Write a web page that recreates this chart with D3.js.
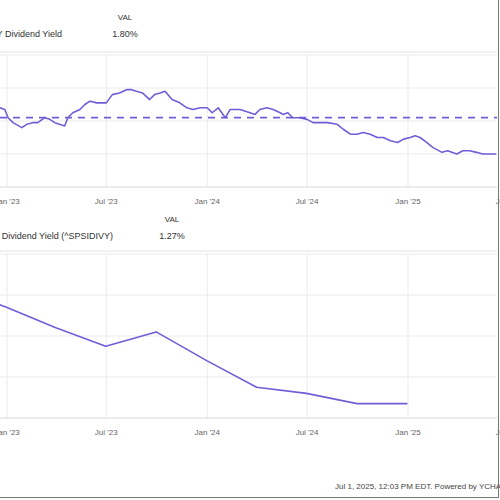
<!DOCTYPE html>
<html><head><meta charset="utf-8">
<script src="https://cdn.jsdelivr.net/npm/d3@7"></script>
<style>body{margin:0;background:#fff} svg{display:block;font-family:"Liberation Sans",Arial,sans-serif}</style>
</head><body><svg id="c" width="500" height="500"></svg>
<script>
const xTickDates = ["2023-01-01","2023-07-01","2024-01-01","2024-07-01","2025-01-01","2025-07-01"];
const xTickLabels = ["Jan '23","Jul '23","Jan '24","Jul '24","Jan '25","Jul '25"];

const fundDates = ["2022-12-19","2022-12-28","2023-01-03","2023-01-12","2023-01-28","2023-02-06","2023-02-17","2023-02-26","2023-03-11","2023-03-20","2023-03-29","2023-04-07","2023-04-16","2023-04-22","2023-05-01","2023-05-14","2023-05-23","2023-06-01","2023-06-14","2023-07-01","2023-07-12","2023-07-25","2023-08-07","2023-08-16","2023-08-25","2023-09-05","2023-09-18","2023-09-27","2023-10-07","2023-10-16","2023-10-29","2023-11-12","2023-11-25","2023-12-06","2023-12-19","2024-01-01","2024-01-10","2024-01-21","2024-02-03","2024-02-12","2024-03-01","2024-03-19","2024-03-28","2024-04-06","2024-04-19","2024-04-30","2024-05-13","2024-05-18","2024-05-27","2024-06-05","2024-06-18","2024-07-01","2024-07-12","2024-07-25","2024-08-07","2024-08-25","2024-09-05","2024-09-18","2024-09-30","2024-10-11","2024-10-24","2024-11-06","2024-11-17","2024-11-30","2024-12-13","2024-12-24","2025-01-05","2025-01-14","2025-01-23","2025-02-04","2025-02-15","2025-03-04","2025-03-14","2025-03-31","2025-04-11","2025-04-23","2025-05-06","2025-05-17","2025-06-11"];
const fundYield = [2.08,2.07,2.02,1.99,1.96,1.98,1.99,1.99,2.02,2.01,1.99,1.98,1.97,2.02,2.05,2.07,2.10,2.12,2.11,2.11,2.16,2.17,2.19,2.19,2.18,2.17,2.13,2.16,2.17,2.18,2.13,2.11,2.08,2.07,2.08,2.08,2.05,2.08,2.02,2.07,2.07,2.05,2.04,2.07,2.08,2.07,2.05,2.04,2.05,2.02,2.02,2.01,1.99,1.99,1.99,1.98,1.95,1.92,1.92,1.93,1.92,1.90,1.90,1.88,1.87,1.89,1.90,1.91,1.90,1.87,1.84,1.81,1.82,1.80,1.82,1.82,1.81,1.80,1.80];
const fundAverage = 2.02;
const fundLabel = "SPY Dividend Yield";
const fundValue = "1.80%";

const indexDates = ["2022-09-30","2022-12-31","2023-03-31","2023-06-30","2023-09-30","2023-12-31","2024-03-31","2024-06-30","2024-09-30","2024-12-31"];
const indexYield = [1.83,1.74,1.64,1.55,1.62,1.48,1.35,1.32,1.27,1.27];
const indexLabel = "S&P 500 Dividend Yield (^SPSIDIVY)";
const indexValue = "1.27%";

const topTicks = [1.6,1.8,2.0,2.2,2.4];
const bottomTicks = [1.2,1.4,1.6,1.8,2.0];
const footerText = "Jul 1, 2025, 12:03 PM EDT. Powered by YCHARTS";

const svg = d3.select("#c");
const purple = "#6e5fd8";
const parse = d3.utcParse("%Y-%m-%d");
const x = d3.scaleUtc().domain([parse("2023-01-01"), parse("2025-01-01")]).range([7, 408]);
const plotLeft = 0, plotRight = 497;

svg.append("defs").append("clipPath").attr("id","clipAll")
  .append("rect").attr("x",plotLeft).attr("y",0).attr("width",plotRight-plotLeft).attr("height",500);

function panel(cfg){
  const g = svg.append("g");
  const y = d3.scaleLinear().domain([cfg.ticks[0], cfg.ticks[cfg.ticks.length-1]]).range([cfg.bottom, cfg.top]);
  // header
  g.append("text").attr("x", cfg.valX).attr("y", cfg.headY).attr("text-anchor","middle")
    .attr("font-size",8).attr("fill","#333").text("VAL");
  g.append("text").attr("x", cfg.valX).attr("y", cfg.headY+17).attr("text-anchor","middle")
    .attr("font-size",9).attr("fill","#333").text(cfg.value);
  g.append("text").attr("x", cfg.labelEnd).attr("y", cfg.headY+17).attr("text-anchor","end")
    .attr("font-size",9).attr("fill","#333").text(cfg.label);
  // horizontal grid
  g.selectAll(".hg").data(cfg.ticks.slice(1)).join("line")
    .attr("x1",plotLeft).attr("x2",plotRight)
    .attr("y1",d=>y(d)).attr("y2",d=>y(d))
    .attr("stroke","#ebebeb").attr("stroke-width",1);
  // vertical grid
  const xt = xTickDates.map(parse);
  g.selectAll(".vg").data(xt).join("line")
    .attr("x1",d=>x(d)).attr("x2",d=>x(d))
    .attr("y1",y(cfg.ticks[cfg.ticks.length-1])).attr("y2",cfg.bottom)
    .attr("stroke","#ebebeb").attr("stroke-width",1);
  // baseline
  g.append("line").attr("x1",plotLeft).attr("x2",plotRight).attr("y1",cfg.bottom).attr("y2",cfg.bottom)
    .attr("stroke","#d9d9d9").attr("stroke-width",1.2);
  // x labels
  g.selectAll(".xl").data(xt).join("text")
    .attr("x",d=>x(d)).attr("y",cfg.bottom+17).attr("text-anchor","middle")
    .attr("font-size",8).attr("fill","#666")
    .text((d,i)=>xTickLabels[i]);
  const pts = cfg.dates.map((d,i)=>({d:parse(d), v:cfg.values[i]}));
  const cg = g.append("g").attr("clip-path","url(#clipAll)");
  if (cfg.avg !== undefined){
    cg.append("line").attr("x1",plotLeft).attr("x2",plotRight)
      .attr("y1",y(cfg.avg)).attr("y2",y(cfg.avg))
      .attr("stroke",purple).attr("stroke-width",1.8).attr("stroke-dasharray","7,6");
  }
  cg.append("path").datum(pts)
    .attr("d", d3.line().x(p=>x(p.d)).y(p=>y(p.v)))
    .attr("fill","none").attr("stroke",purple).attr("stroke-width",1.6)
    .attr("stroke-linejoin","round");
}

panel({top:55, bottom:187, ticks:topTicks, dates:fundDates, values:fundYield, avg:fundAverage,
  label:fundLabel, value:fundValue, labelEnd:62, valX:125, headY:20});
panel({top:254, bottom:418, ticks:bottomTicks, dates:indexDates, values:indexYield,
  label:indexLabel, value:indexValue, labelEnd:113, valX:172, headY:222});

// header separators
svg.append("line").attr("x1",0).attr("x2",plotRight).attr("y1",52).attr("y2",52).attr("stroke","#e3e3e3");
svg.append("line").attr("x1",0).attr("x2",plotRight).attr("y1",251).attr("y2",251).attr("stroke","#e3e3e3");

svg.append("text").attr("x",335).attr("y",489).attr("font-size",8).attr("fill","#444").text(footerText);
svg.append("rect").attr("x",-5).attr("y",-5).attr("width",503.5).attr("height",502.5)
  .attr("fill","none").attr("stroke","#777").attr("stroke-width",1);
</script></body></html>
